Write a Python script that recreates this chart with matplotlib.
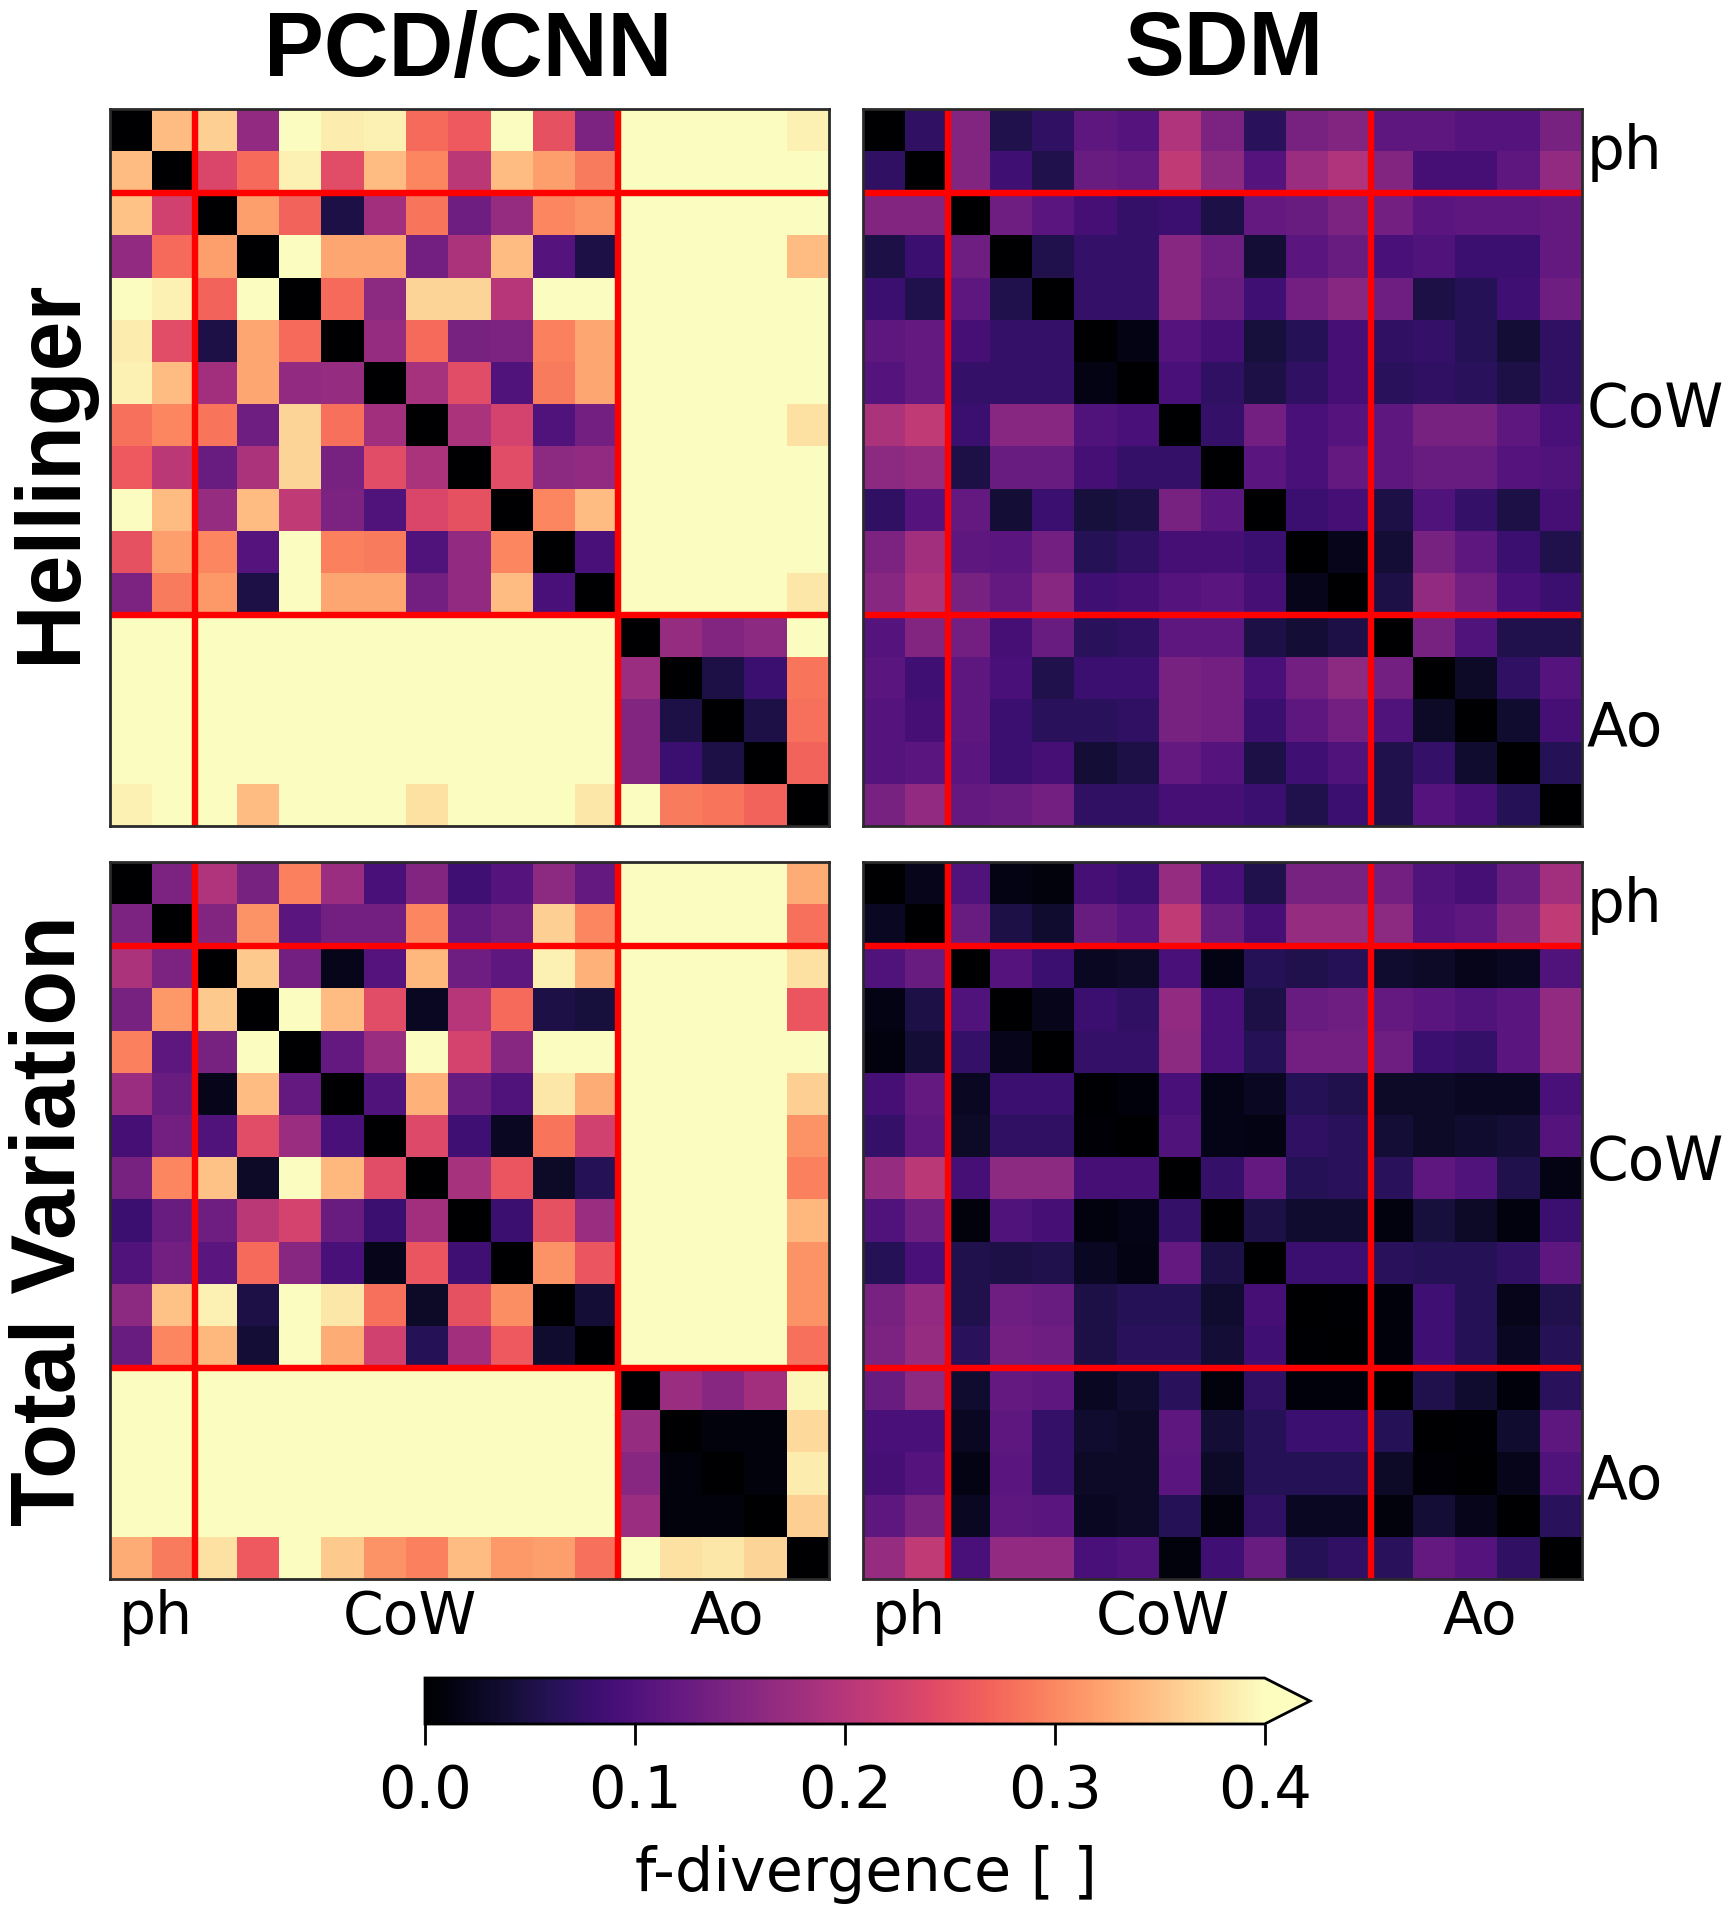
# coding=utf-8
import matplotlib
matplotlib.use('Agg')
import matplotlib.pyplot as plt
import numpy as np

W, H = 1736, 1920

group_labels = ['ph', 'CoW', 'Ao']
cbar_ticks = [0.0, 0.1, 0.2, 0.3, 0.4]

hellinger_pcd = [
    [0, .345, .36, .165, .40, .385, .39, .275, .26, .40, .25, .145, .40, .40, .40, .40, .39],
    [.345, 0, .235, .275, .39, .245, .345, .30, .205, .345, .32, .29, .40, .40, .40, .40, .40],
    [.35, .225, 0, .32, .27, .05, .18, .285, .13, .17, .30, .31, .40, .40, .40, .40, .40],
    [.165, .275, .32, 0, .40, .325, .325, .135, .19, .345, .105, .05, .40, .40, .40, .40, .345],
    [.40, .39, .27, .40, 0, .275, .16, .365, .365, .20, .40, .40, .40, .40, .40, .40, .40],
    [.385, .245, .05, .325, .275, 0, .17, .275, .14, .145, .295, .325, .40, .40, .40, .40, .40],
    [.39, .345, .18, .325, .165, .17, 0, .185, .245, .10, .29, .325, .40, .40, .40, .40, .40],
    [.28, .30, .285, .13, .365, .28, .18, 0, .19, .23, .10, .135, .40, .40, .40, .40, .375],
    [.26, .205, .125, .19, .365, .14, .245, .19, 0, .245, .16, .165, .40, .40, .40, .40, .40],
    [.40, .345, .17, .345, .21, .145, .10, .235, .25, 0, .30, .345, .40, .40, .40, .40, .40],
    [.25, .32, .30, .105, .40, .295, .29, .10, .165, .30, 0, .095, .40, .40, .40, .40, .40],
    [.145, .29, .315, .05, .40, .325, .325, .135, .165, .345, .095, 0, .40, .40, .40, .40, .38],
    [.40, .40, .40, .40, .40, .40, .40, .40, .40, .40, .40, .40, 0, .17, .15, .16, .40],
    [.40, .40, .40, .40, .40, .40, .40, .40, .40, .40, .40, .40, .175, 0, .05, .08, .285],
    [.40, .40, .40, .40, .40, .40, .40, .40, .40, .40, .40, .40, .15, .05, 0, .05, .28],
    [.40, .40, .40, .40, .40, .40, .40, .40, .40, .40, .40, .40, .15, .08, .05, 0, .27],
    [.39, .40, .40, .345, .40, .40, .40, .375, .40, .40, .40, .38, .40, .29, .285, .27, 0],
]

hellinger_sdm = [
    [0, .07, .15, .055, .07, .115, .105, .195, .145, .065, .14, .15, .115, .115, .105, .105, .14],
    [.07, 0, .15, .085, .055, .125, .12, .21, .16, .105, .175, .195, .15, .09, .09, .115, .165],
    [.15, .15, 0, .13, .11, .09, .075, .08, .05, .12, .125, .145, .135, .11, .115, .115, .12],
    [.05, .08, .13, 0, .055, .075, .075, .155, .13, .04, .11, .125, .095, .10, .08, .08, .12],
    [.08, .055, .115, .055, 0, .075, .075, .155, .125, .085, .135, .155, .13, .05, .06, .085, .13],
    [.115, .12, .09, .075, .075, 0, .015, .105, .09, .045, .06, .09, .07, .075, .06, .04, .07],
    [.105, .12, .075, .075, .075, .015, 0, .095, .07, .05, .07, .09, .065, .07, .065, .05, .07],
    [.19, .21, .08, .155, .155, .10, .095, 0, .075, .135, .095, .105, .115, .14, .14, .115, .095],
    [.16, .17, .05, .125, .125, .09, .075, .075, 0, .11, .095, .12, .115, .125, .125, .105, .10],
    [.07, .105, .12, .04, .08, .045, .05, .14, .11, 0, .08, .09, .05, .10, .075, .05, .09],
    [.145, .18, .115, .11, .135, .06, .07, .09, .09, .08, 0, .02, .04, .14, .115, .08, .055],
    [.155, .19, .14, .12, .155, .085, .09, .105, .11, .09, .02, 0, .05, .165, .135, .095, .08],
    [.105, .15, .135, .09, .125, .065, .07, .115, .115, .05, .04, .05, 0, .14, .10, .055, .055],
    [.11, .085, .115, .095, .055, .08, .08, .14, .135, .095, .135, .16, .135, 0, .03, .07, .105],
    [.105, .09, .115, .08, .065, .065, .07, .14, .135, .08, .115, .135, .10, .03, 0, .035, .09],
    [.105, .11, .11, .08, .09, .04, .05, .12, .105, .05, .085, .10, .055, .075, .035, 0, .06],
    [.14, .165, .12, .125, .135, .07, .07, .09, .09, .08, .055, .08, .055, .105, .09, .06, 0],
]

tv_pcd = [
    [0, .145, .195, .14, .295, .175, .095, .15, .085, .105, .16, .12, .40, .40, .40, .40, .33],
    [.145, 0, .15, .31, .11, .135, .135, .30, .12, .135, .36, .30, .40, .40, .40, .40, .28],
    [.19, .145, 0, .355, .135, .02, .105, .34, .13, .115, .39, .335, .40, .40, .40, .40, .375],
    [.14, .315, .355, 0, .40, .345, .245, .025, .20, .275, .05, .045, .40, .40, .40, .40, .255],
    [.295, .115, .14, .40, 0, .12, .175, .40, .23, .155, .40, .40, .40, .40, .40, .40, .40],
    [.175, .125, .02, .345, .12, 0, .10, .335, .125, .10, .38, .33, .40, .40, .40, .40, .36],
    [.09, .135, .10, .245, .175, .095, 0, .24, .085, .025, .285, .225, .40, .40, .40, .40, .31],
    [.14, .30, .35, .03, .40, .34, .245, 0, .185, .255, .03, .06, .40, .40, .40, .40, .295],
    [.08, .125, .13, .205, .23, .125, .08, .18, 0, .08, .25, .175, .40, .40, .40, .40, .34],
    [.10, .135, .11, .275, .155, .095, .02, .255, .085, 0, .31, .255, .40, .40, .40, .40, .31],
    [.16, .35, .39, .05, .40, .38, .28, .03, .25, .305, 0, .04, .40, .40, .40, .40, .31],
    [.125, .30, .34, .04, .40, .33, .225, .06, .18, .26, .035, 0, .40, .40, .40, .40, .28],
    [.40, .40, .40, .40, .40, .40, .40, .40, .40, .40, .40, .40, 0, .175, .155, .18, .395],
    [.40, .40, .40, .40, .40, .40, .40, .40, .40, .40, .40, .40, .17, 0, .01, .01, .37],
    [.40, .40, .40, .40, .40, .40, .40, .40, .40, .40, .40, .40, .155, .01, 0, .01, .385],
    [.40, .40, .40, .40, .40, .40, .40, .40, .40, .40, .40, .40, .175, .01, .01, 0, .36],
    [.33, .29, .375, .26, .40, .355, .31, .295, .345, .315, .32, .28, .40, .375, .38, .365, 0],
]

tv_sdm = [
    [0, .02, .10, .015, .01, .09, .08, .17, .095, .055, .14, .14, .135, .10, .09, .125, .18],
    [.025, 0, .125, .05, .035, .125, .11, .21, .125, .09, .17, .17, .16, .105, .115, .15, .21],
    [.10, .125, 0, .105, .08, .025, .03, .095, .015, .06, .055, .06, .035, .03, .02, .025, .10],
    [.015, .05, .10, 0, .02, .08, .07, .165, .095, .05, .125, .13, .12, .11, .10, .11, .165],
    [.012, .04, .075, .02, 0, .075, .075, .16, .095, .06, .135, .135, .13, .08, .075, .11, .165],
    [.09, .12, .025, .08, .08, .003, .008, .095, .018, .025, .06, .055, .03, .03, .025, .025, .095],
    [.075, .115, .03, .07, .07, .005, 0, .10, .018, .015, .07, .065, .04, .03, .035, .04, .105],
    [.17, .205, .09, .16, .16, .09, .09, 0, .075, .12, .06, .065, .065, .115, .10, .055, .015],
    [.10, .13, .01, .10, .09, .012, .018, .075, 0, .05, .035, .035, .012, .045, .03, .012, .08],
    [.06, .095, .055, .05, .055, .025, .015, .12, .05, 0, .08, .08, .065, .06, .06, .07, .115],
    [.14, .165, .055, .13, .125, .05, .06, .06, .035, .09, 0, .003, .008, .085, .06, .02, .055],
    [.145, .17, .065, .135, .13, .05, .065, .065, .04, .085, .003, 0, .008, .085, .06, .025, .06],
    [.125, .16, .035, .12, .115, .025, .035, .065, .01, .07, .008, .008, 0, .055, .035, .008, .065],
    [.095, .095, .025, .115, .075, .035, .03, .115, .04, .06, .08, .08, .06, 0, .003, .035, .115],
    [.09, .105, .015, .11, .075, .03, .03, .11, .03, .06, .06, .06, .03, .005, 0, .02, .10],
    [.115, .14, .025, .115, .11, .025, .03, .06, .01, .07, .025, .025, .01, .04, .02, 0, .065],
    [.17, .21, .095, .165, .165, .095, .10, .01, .085, .125, .06, .07, .065, .12, .105, .07, 0],
]


def add_axes_px(x0, y0, x1, y1):
    return fig.add_axes([x0 / W, 1 - y1 / H, (x1 - x0) / W, (y1 - y0) / H])


fig = plt.figure(figsize=(W / 100, H / 100), dpi=100)

panels = [
    (hellinger_pcd, (110, 109, 829, 826), False, True),
    (hellinger_sdm, (863, 109, 1582, 826), True, True),
    (tv_pcd, (110, 862, 829, 1579), False, False),
    (tv_sdm, (863, 862, 1582, 1579), True, False),
]

for data, box, right, top in panels:
    ax = add_axes_px(*box)
    im = ax.imshow(np.array(data), cmap='magma', vmin=0, vmax=0.4,
                   interpolation='nearest', aspect='auto')
    ax.axhline(1.5, color='red', lw=4.6)
    ax.axhline(11.5, color='red', lw=4.6)
    ax.axvline(1.5, color='red', lw=4.6)
    ax.axvline(11.5, color='red', lw=4.6)
    for s in ax.spines.values():
        s.set_linewidth(2)
        s.set_color('#2a2a2a')
    ax.set_xticks([])
    ax.set_yticks([])
    if right:
        ax.yaxis.tick_right()
        ax.set_yticks([0.38, 6.5, 14.05], group_labels, fontsize=43)
        ax.tick_params(axis='y', length=0, pad=3)
    if not top:
        ax.set_xticks([0.58, 6.58, 14.08], group_labels, fontsize=42)
        ax.tick_params(axis='x', length=0, pad=7)

title_font = dict(family='Liberation Sans', fontweight='bold', fontsize=64.5,
                  ha='center', va='center')
fig.text(468 / W, 1 - 52 / H, 'PCD/CNN', **title_font)
fig.text(1224 / W, 1 - 52 / H, 'SDM', **title_font)
fig.text(52 / W, 1 - 471 / H, 'Hellinger', rotation=90, **title_font)
fig.text(52 / W, 1 - 1221 / H, 'Total Variation', rotation=90, **title_font)

cax = add_axes_px(425, 1678, 1310, 1724)
cb = fig.colorbar(im, cax=cax, orientation='horizontal', extend='max',
                  extendfrac=0.054, ticks=cbar_ticks)
cb.outline.set_linewidth(2)
cb.ax.tick_params(labelsize=42.5, length=15, width=2, pad=13)
cb.ax.set_xticklabels(['%.1f' % v for v in cbar_ticks])
cb.set_label('f-divergence [ ]', fontsize=43.5, labelpad=18, x=0.525)

fig.savefig('out.png', dpi=100)
